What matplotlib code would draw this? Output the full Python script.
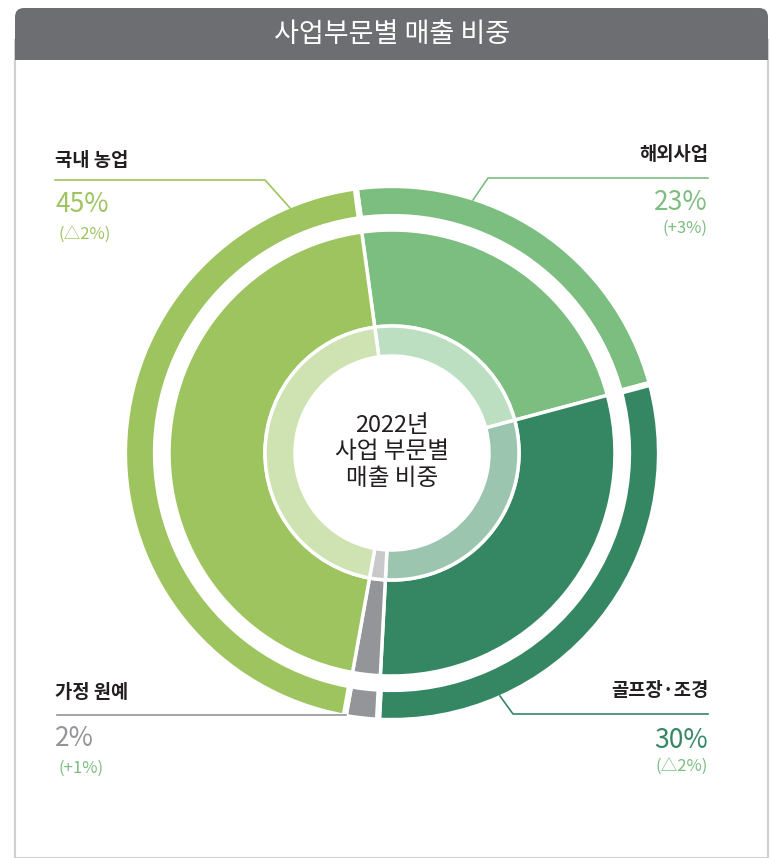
import matplotlib.pyplot as plt
from matplotlib.patches import FancyBboxPatch, Rectangle

plt.rcParams['font.family'] = ['Noto Sans CJK KR', 'DejaVu Sans']

# data
segments = ['해외사업', '골프장·조경', '가정 원예', '국내 농업']
shares = [23, 30, 2, 45]
changes = ['(+3%)', '(△2%)', '(+1%)', '(△2%)']
outer_colors = ['#7cbd80', '#358763', '#939598', '#9dc45f']
inner_colors = ['#bcdfc1', '#9cc5b0', '#c9c9cb', '#cfe3b2']
title = '사업부문별 매출 비중'
center_text = '2022년\n사업 부문별\n매출 비중'

W, H = 770, 858
fig = plt.figure(figsize=(W / 100, H / 100), dpi=100)
ax = fig.add_axes([0, 0, 1, 1])


def py(y):
    return H - y


# panel and header
ax.add_patch(Rectangle((15, py(858)), 753, 858 - 40, facecolor='white',
                       edgecolor='#d0d0d0', lw=1.5, zorder=0))
ax.add_patch(FancyBboxPatch((15, py(60)), 753, 52, boxstyle='round,pad=0,rounding_size=9',
                            facecolor='#6d6e71', edgecolor='none', zorder=1))
ax.add_patch(Rectangle((15, py(60)), 753, 20, facecolor='#6d6e71', edgecolor='none', zorder=1))
ax.text(392, py(35), title, color='white', fontsize=19.5, fontweight='medium',
        ha='center', va='center', zorder=2)

cx, cy = 392, py(453)
start = 97.8

# outer ring
ax.pie(shares, colors=outer_colors, startangle=start, counterclock=False,
       center=(cx, cy), radius=268, frame=True,
       wedgeprops=dict(width=32, edgecolor='white', linewidth=4.5))
# inner pie
ax.pie(shares, colors=outer_colors, startangle=start, counterclock=False,
       center=(cx, cy), radius=223, frame=True,
       wedgeprops=dict(width=96, edgecolor='white', linewidth=2.5))
# light ring
ax.pie(shares, colors=inner_colors, startangle=start, counterclock=False,
       center=(cx, cy), radius=127, frame=True,
       wedgeprops=dict(width=30, edgecolor='white', linewidth=2.5))
ax.set_xlim(0, W)
ax.set_ylim(0, H)
ax.set_aspect('auto')
ax.axis('off')

ax.text(cx, py(452), center_text, fontsize=17, fontweight='medium', ha='center',
        va='center', color='#231f20', linespacing=1.2)

dark = '#231f20'
# label settings: name, x, anchor, name y, line pts, pct y, change y, pct color, change color
labels = [
    (3, 55, 'left', 160, [(55, 180), (265, 180), (290, 208)], 204, 235, '#9dc45f', '#9dc45f'),
    (0, 708, 'right', 155, [(708, 178), (488, 178), (473, 200)], 202, 228, '#7cbd80', '#7cbd80'),
    (2, 55, 'left', 692, [(57, 715), (346, 715)], 738, 768, '#939598', '#7cbd80'),
    (1, 708, 'right', 690, [(708, 714), (513, 714), (500, 696)], 740, 767, '#358763', '#7cbd80'),
]
for i, x, ha, ny, pts, pyv, cyv, pc, cc in labels:
    ax.text(x, py(ny), segments[i], fontsize=13.5, fontweight='bold', ha=ha, va='center',
            color=dark)
    ax.plot([p[0] for p in pts], [py(p[1]) for p in pts], color=outer_colors[i], lw=1.2,
            zorder=5)
    ax.text(x, py(pyv), f'{shares[i]}%', fontsize=19, fontweight='medium', ha=ha,
            va='center', color=pc)
    ax.text(x + (3 if ha == 'left' else 0), py(cyv), changes[i], fontsize=12, ha=ha,
            va='center', color=cc)

fig.savefig('out.png', dpi=100)
